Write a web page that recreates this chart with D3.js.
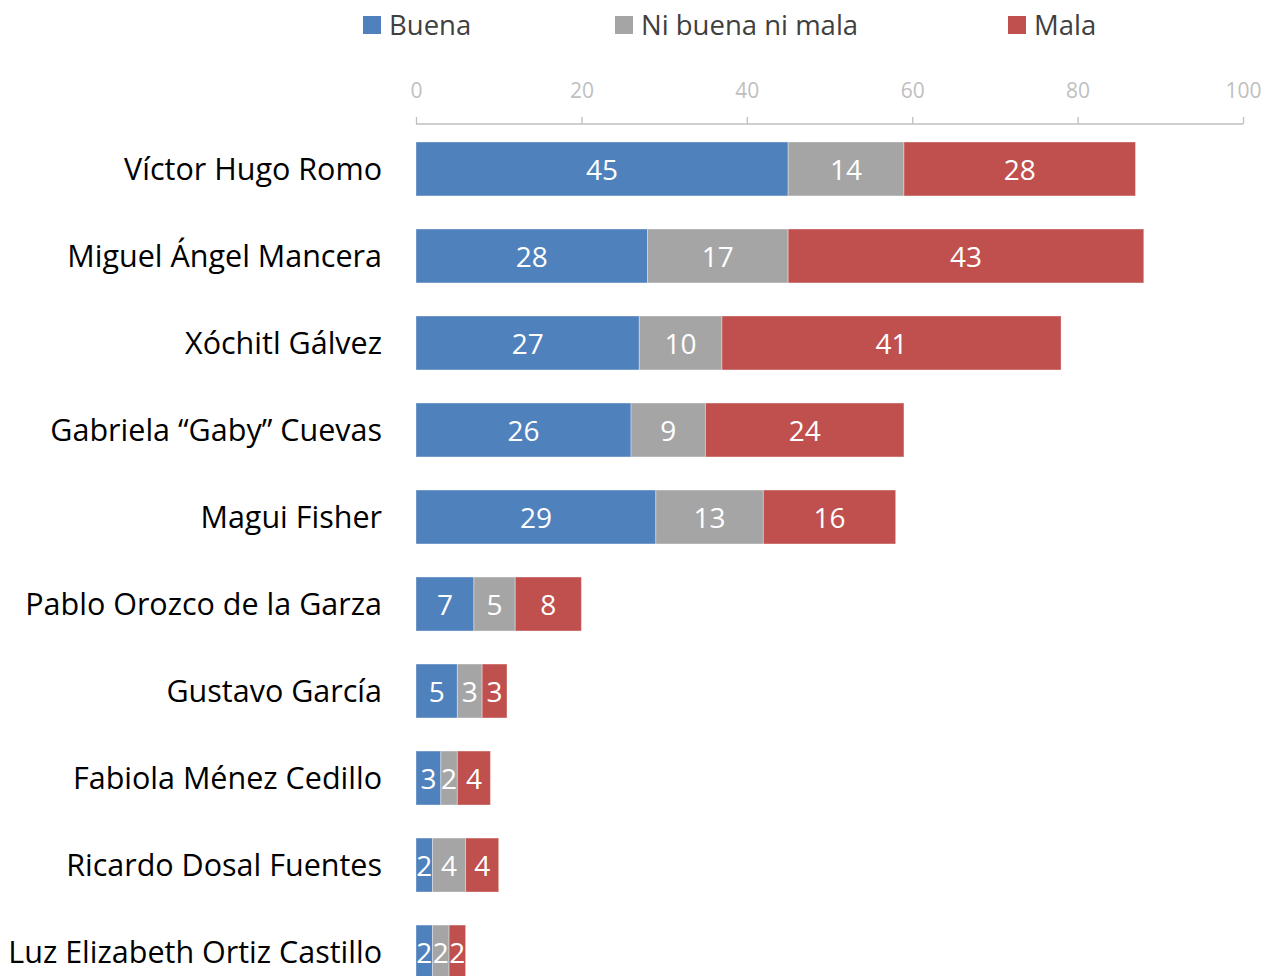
<!DOCTYPE html>
<html>
<head>
<meta charset="utf-8">
<script src="https://cdn.jsdelivr.net/npm/d3@7"></script>
<style>
  body { margin: 0; background: #fff; }
  svg { display: block; font-family: "Open Sans", "Noto Sans", sans-serif; }
</style>
</head>
<body>
<div id="chart"></div>
<script>
// Chart data
var candidates = ["Víctor Hugo Romo", "Miguel Ángel Mancera", "Xóchitl Gálvez",
                  "Gabriela “Gaby” Cuevas", "Magui Fisher", "Pablo Orozco de la Garza",
                  "Gustavo García", "Fabiola Ménez Cedillo", "Ricardo Dosal Fuentes",
                  "Luz Elizabeth Ortiz Castillo"];
var seriesNames = ["Buena", "Ni buena ni mala", "Mala"];
var buena = [45, 28, 27, 26, 29, 7, 5, 3, 2, 2];
var niBuena = [14, 17, 10, 9, 13, 5, 3, 2, 4, 2];
var mala = [28, 43, 41, 24, 16, 8, 3, 4, 4, 2];
var xTicks = [0, 20, 40, 60, 80, 100];

var colors = ["#4F81BD", "#A5A5A5", "#C0504D"];

var svg_dx = 1267, svg_dy = 976;

var svg = d3.select("#chart")
            .append("svg")
            .attr("width", svg_dx)
            .attr("height", svg_dy);

// Scales
var xScale = d3.scaleLinear()
               .domain([0, 100])
               .range([416, 1243]);

var yScale = d3.scaleBand()
               .domain(candidates)
               .range([142, 979])
               .paddingInner(0.38)
               .paddingOuter(0);

// Stack the series
var rows = candidates.map(function(c, i) {
	return { name: c, "Buena": buena[i], "Ni buena ni mala": niBuena[i], "Mala": mala[i] };
});
var stacked = d3.stack().keys(seriesNames)(rows);

// Top axis
var axis = svg.append("g")
              .attr("transform", "translate(0,124)")
              .call(d3.axisTop(xScale).tickValues(xTicks).tickSize(7).tickPadding(19));
axis.select(".domain").attr("stroke", "#BFBFBF").attr("stroke-width", 1.3)
    .attr("d", "M" + xScale(0) + ",0H" + xScale(100));
axis.selectAll(".tick line").attr("stroke", "#BFBFBF").attr("stroke-width", 1.3);
axis.selectAll(".tick text")
    .attr("fill", "#BFBFBF")
    .style("font-size", "21px")
    .style("font-family", "'Open Sans', sans-serif");

// Category labels
svg.append("g")
   .selectAll("text")
   .data(candidates)
   .enter()
   .append("text")
   .attr("x", 382)
   .attr("y", function(d) { return yScale(d) + yScale.bandwidth() / 2; })
   .attr("dy", "0.35em")
   .attr("text-anchor", "end")
   .attr("fill", "#000")
   .style("font-size", "30.5px")
   .text(function(d) { return d; });

// Bars
var layers = svg.append("g")
                .selectAll("g")
                .data(stacked)
                .enter()
                .append("g")
                .attr("fill", function(d, i) { return colors[i]; });

layers.selectAll("rect")
      .data(function(d) { return d; })
      .enter()
      .append("rect")
      .attr("x", function(d) { return xScale(d[0]); })
      .attr("y", function(d) { return yScale(d.data.name); })
      .attr("width", function(d) { return xScale(d[1]) - xScale(d[0]); })
      .attr("height", yScale.bandwidth())
      .attr("stroke", "#fff")
      .attr("stroke-opacity", 0.35)
      .attr("stroke-width", 1);

// Value labels
layers.selectAll("text")
      .data(function(d) { return d; })
      .enter()
      .append("text")
      .attr("x", function(d) { return (xScale(d[0]) + xScale(d[1])) / 2; })
      .attr("y", function(d) { return yScale(d.data.name) + yScale.bandwidth() / 2; })
      .attr("dy", "0.4em")
      .attr("text-anchor", "middle")
      .attr("fill", "#fff")
      .style("font-size", "28px")
      .text(function(d) { return d[1] - d[0]; });

// Legend
var legendX = [363, 615, 1008];
var legend = svg.append("g")
                .selectAll("g")
                .data(seriesNames)
                .enter()
                .append("g")
                .attr("transform", function(d, i) { return "translate(" + legendX[i] + ",25)"; });

legend.append("rect")
      .attr("x", 0)
      .attr("y", -9)
      .attr("width", 18)
      .attr("height", 18)
      .attr("fill", function(d, i) { return colors[i]; });

legend.append("text")
      .attr("x", 26)
      .attr("dy", "0.36em")
      .attr("fill", "#404040")
      .style("font-size", "27.5px")
      .text(function(d) { return d; });
</script>
</body>
</html>
